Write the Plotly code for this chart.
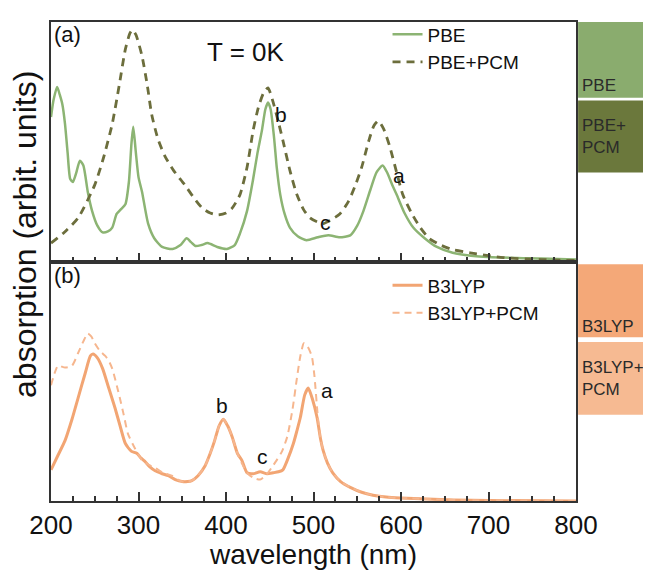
import plotly.graph_objects as go

# ---------------- data ----------------
pbe_wl = [200, 203, 207, 210, 213, 216, 219, 222, 225, 229, 233, 237, 242, 247, 253, 259, 265, 270,
          275, 280, 285, 289, 292, 294, 297, 300, 304, 311, 318, 327, 339, 348, 355, 360, 365, 372,
          379, 390, 401, 410, 416, 424, 431, 436, 441, 445, 448, 451, 455, 458, 462, 467, 473, 482,
          492, 505, 517, 530, 542, 550, 557, 565, 572, 579, 584, 590, 595, 604, 614, 627, 641, 659,
          680, 717, 760, 800]
pbe_abs = [149, 167, 180, 172, 162, 142, 112, 85, 82, 92, 104, 99, 72, 52, 37, 30, 31, 35,
           49, 54, 59, 82, 122, 139, 112, 87, 72, 39, 24, 15, 13, 17, 24, 20, 16, 17,
           19, 15, 13, 17, 29, 52, 85, 112, 135, 157, 164, 157, 127, 97, 69, 49, 35, 26,
           22, 25, 27, 25, 27, 37, 52, 74, 92, 99, 92, 79, 69, 50, 35, 24, 15, 9,
           6, 4, 3, 2]

pbe_pcm_wl = [200, 215, 231, 250, 260, 270, 278, 285, 290, 293, 297, 304, 310, 315, 322, 330, 340,
              353, 363, 373, 382, 391, 400, 407, 416, 424, 431, 437, 443, 448, 453, 459, 465, 473,
              481, 489, 496, 504, 511, 520, 530, 540, 548, 555, 563, 569, 574, 580, 587, 595, 602,
              612, 622, 632, 645, 660, 679, 700, 717, 760, 800]
pbe_pcm_abs = [19, 30, 45, 79, 107, 142, 182, 219, 235, 239, 234, 212, 182, 152, 127, 109, 94,
               79, 66, 55, 50, 48, 50, 55, 69, 97, 135, 159, 174, 179, 167, 147, 125, 94,
               69, 53, 45, 41, 39, 43, 49, 62, 79, 97, 124, 140, 145, 137, 119, 92, 69,
               50, 35, 24, 17, 12, 9, 6, 4, 2, 1]

b3_wl = [200, 208, 216, 224, 231, 239, 245, 248, 253, 259, 266, 273, 279, 285, 292, 298, 303, 307,
         313, 319, 327, 334, 342, 350, 356, 361, 368, 376, 382, 387, 392, 397, 402, 407, 413, 418,
         424, 431, 439, 447, 454, 460, 465, 471, 477, 481, 485, 490, 494, 499, 504, 508, 511, 516,
         522, 531, 542, 555, 568, 583, 599, 630, 660, 700, 800]
b3_abs = [32, 47, 62, 84, 106, 131, 149, 151, 147, 136, 116, 96, 77, 59, 51, 49, 44, 41,
          35, 31, 28, 26, 22, 20, 20, 21, 26, 36, 49, 62, 77, 84, 77, 66, 49, 42,
          29, 28, 30, 28, 29, 30, 32, 44, 59, 72, 86, 109, 116, 104, 86, 64, 52, 39,
          29, 20, 14, 9, 6, 4, 3, 2, 1, 0.5, 0]

b3_pcm_wl = [200, 204, 208, 216, 224, 231, 237, 242, 246, 250, 256, 262, 266, 270, 277, 283, 288,
             296, 304, 312, 319, 328, 338, 345, 350, 356, 361, 368, 376, 382, 387, 392, 397, 402,
             407, 413, 418, 424, 431, 439, 446, 452, 458, 464, 470, 476, 481, 485, 489, 493, 498,
             501, 505, 508, 511, 516, 522, 531, 542, 555, 568, 583, 599, 630, 660, 700, 800]
b3_pcm_abs = [119, 131, 139, 137, 139, 152, 164, 172, 169, 162, 154, 149, 144, 136, 112, 89, 69,
              54, 42, 37, 34, 29, 26, 22, 20, 20, 21, 26, 36, 49, 62, 77, 84, 77,
              66, 49, 39, 29, 24, 22, 27, 34, 42, 51, 66, 94, 126, 149, 162, 159, 149,
              129, 86, 64, 52, 39, 29, 20, 14, 9, 6, 4, 3, 2, 1, 0.5, 0]

# peak labels: (wavelength, absorption value, text)
top_labels_wl = [463, 514, 598]
top_labels_y = [152, 40, 89]
top_labels_txt = ["b", "c", "a"]
bot_labels_wl = [395, 442, 515]
bot_labels_y = [98, 46, 114]
bot_labels_txt = ["b", "c", "a"]

x_ticks = [200, 300, 400, 500, 600, 700, 800]

# ---------------- styles ----------------
FONT = "Liberation Sans, Arial, Helvetica, sans-serif"
C_PBE = "rgb(140,180,115)"
C_PBE_PCM = "rgb(108,110,60)"
C_B3 = "rgb(242,165,115)"
C_B3_PCM = "rgb(246,182,142)"
AX = "#333333"

fig = go.Figure()
fig.add_trace(go.Scatter(x=pbe_wl, y=pbe_abs, mode="lines", name="PBE",
                         line=dict(color=C_PBE, width=2.5, shape="spline", smoothing=0.6),
                         xaxis="x", yaxis="y", legend="legend"))
fig.add_trace(go.Scatter(x=pbe_pcm_wl, y=pbe_pcm_abs, mode="lines", name="PBE+PCM",
                         line=dict(color=C_PBE_PCM, width=2.8, dash="8px,6px", shape="spline", smoothing=0.6),
                         xaxis="x", yaxis="y", legend="legend"))
fig.add_trace(go.Scatter(x=b3_wl, y=b3_abs, mode="lines", name="B3LYP",
                         line=dict(color=C_B3, width=3, shape="spline", smoothing=0.6),
                         xaxis="x2", yaxis="y2", legend="legend2"))
fig.add_trace(go.Scatter(x=b3_pcm_wl, y=b3_pcm_abs, mode="lines", name="B3LYP+PCM",
                         line=dict(color=C_B3_PCM, width=2, dash="7px,5px", shape="spline", smoothing=0.6),
                         xaxis="x2", yaxis="y2", legend="legend2"))

xcommon = dict(range=[200, 800], tickvals=x_ticks, ticks="inside", ticklen=9, tickwidth=2,
               tickcolor=AX, showline=True, linecolor=AX, linewidth=2, mirror=True,
               showgrid=False, zeroline=False,
               minor=dict(dtick=25, tick0=200, ticks="inside", ticklen=5, tickwidth=2,
                          tickcolor=AX, showgrid=False))
ycommon = dict(showticklabels=False, ticks="", showline=True, linecolor=AX, linewidth=2,
               mirror=True, showgrid=False, zeroline=False, fixedrange=True)

annotations = []
for wl, yv, t in zip(top_labels_wl, top_labels_y, top_labels_txt):
    annotations.append(dict(x=wl, y=yv, xref="x", yref="y", text=t, showarrow=False,
                            font=dict(size=21, color="#111111", family=FONT)))
for wl, yv, t in zip(bot_labels_wl, bot_labels_y, bot_labels_txt):
    annotations.append(dict(x=wl, y=yv, xref="x2", yref="y2", text=t, showarrow=False,
                            font=dict(size=21, color="#111111", family=FONT)))

annotations += [
    dict(x=0.002, y=1.004, xref="paper", yref="paper", text="(a)", showarrow=False,
         xanchor="left", yanchor="top", font=dict(size=22, color="#111111", family=FONT)),
    dict(x=0.002, y=0.502, xref="paper", yref="paper", text="(b)", showarrow=False,
         xanchor="left", yanchor="top", font=dict(size=22, color="#111111", family=FONT)),
    dict(x=0.371, y=0.937, xref="paper", yref="paper", text="T = 0K", showarrow=False,
         xanchor="center", yanchor="middle", font=dict(size=26, color="#111111", family=FONT)),
    dict(x=-0.05, y=0.557, xref="paper", yref="paper", text="absorption (arbit. units)",
         showarrow=False, textangle=-90, xanchor="center", yanchor="middle",
         font=dict(size=32, color="#111111", family=FONT)),
]

# side colour key boxes (paper coordinates, to the right of the plot)
boxes = [
    (1.0040, 1.1429, 0.842, 1.000, "rgb(138,172,110)", ["PBE"], 0.868),
    (1.0040, 1.1429, 0.686, 0.836, "rgb(107,120,60)", ["PBE+", "PCM"], 0.760),
    (1.0040, 1.1429, 0.342, 0.494, "rgb(244,168,120)", ["B3LYP"], 0.364),
    (1.0040, 1.1429, 0.180, 0.332, "rgb(246,186,146)", ["B3LYP+", "PCM"], 0.255),
]
shapes = []
for x0, x1, y0, y1, col, lines, ty in boxes:
    shapes.append(dict(type="rect", xref="paper", yref="paper", x0=x0, x1=x1, y0=y0, y1=y1,
                       fillcolor=col, line=dict(width=0), layer="above"))
    annotations.append(dict(x=x0 + 0.003, y=ty, xref="paper", yref="paper",
                            text="<br>".join(lines), showarrow=False, xanchor="left",
                            yanchor="middle", align="left",
                            font=dict(size=17, color="#2a2a2a", family=FONT)))

# the page has an 8px body margin, so the figure is 8px smaller than the window
fig.update_layout(
    width=643, height=562,
    margin=dict(l=43, r=75, t=7, b=61),
    paper_bgcolor="white", plot_bgcolor="white",
    font=dict(family=FONT, color="#111111"),
    xaxis=dict(domain=[0, 1], anchor="y", showticklabels=False, matches="x2", **xcommon),
    xaxis2=dict(domain=[0, 1], anchor="y2", showticklabels=True,
                tickfont=dict(size=26, family=FONT, color="#111111"),
                title=dict(text="wavelength (nm)", standoff=3,
                           font=dict(size=28, family=FONT, color="#111111")),
                **xcommon),
    yaxis=dict(domain=[0.5, 1], range=[0, 247], anchor="x", **ycommon),
    yaxis2=dict(domain=[0, 0.5], range=[0, 246], anchor="x2", **ycommon),
    legend=dict(x=0.641, y=1.014, xanchor="left", yanchor="top", bgcolor="rgba(0,0,0,0)",
                font=dict(size=19, family=FONT, color="#111111"), tracegroupgap=0,
                itemwidth=30, borderwidth=0),
    legend2=dict(x=0.641, y=0.49, xanchor="left", yanchor="top", bgcolor="rgba(0,0,0,0)",
                 font=dict(size=19, family=FONT, color="#111111"), tracegroupgap=0,
                 itemwidth=30, borderwidth=0),
    showlegend=True,
    annotations=annotations,
    shapes=shapes,
)

fig.write_html("out.html")
